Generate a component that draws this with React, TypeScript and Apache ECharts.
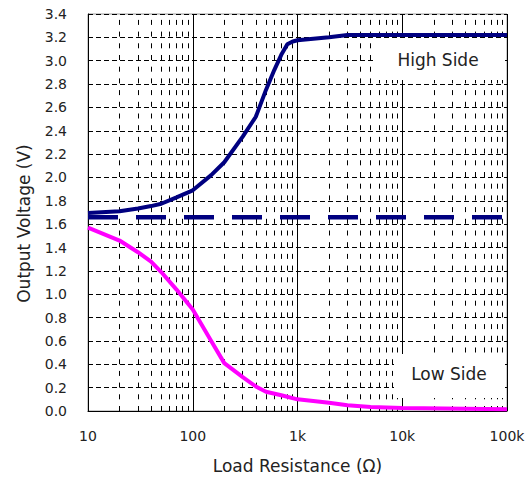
import React, { useEffect, useRef } from "react";
import * as echarts from "echarts";

const resistance = [10, 20, 30, 40, 50, 70, 100, 150, 200, 300, 400, 500, 600, 700, 800, 900, 1000, 2000, 3000, 5000, 10000, 100000];
const highSide = [1.695, 1.71, 1.735, 1.755, 1.775, 1.83, 1.89, 2.02, 2.13, 2.35, 2.52, 2.75, 2.92, 3.05, 3.14, 3.165, 3.175, 3.2, 3.22, 3.22, 3.22, 3.22];
const lowResistance = [10, 20, 30, 40, 50, 70, 100, 150, 200, 300, 400, 500, 700, 1000, 2000, 3000, 5000, 10000, 100000];
const lowSide = [1.57, 1.46, 1.36, 1.28, 1.19, 1.04, 0.87, 0.6, 0.41, 0.29, 0.21, 0.165, 0.135, 0.1, 0.07, 0.05, 0.035, 0.025, 0.015];
const refRange = [10, 100000];
const refLevel = [1.66, 1.66];
const minorGrid = [
  20, 30, 40, 50, 60, 70, 80, 90,
  200, 300, 400, 500, 600, 700, 800, 900,
  2000, 3000, 4000, 5000, 6000, 7000, 8000, 9000,
  20000, 30000, 40000, 50000, 60000, 70000, 80000, 90000,
];
const xTickLabels: Record<string, string> = { "10": "10", "100": "100", "1000": "1k", "10000": "10k", "100000": "100k" };

const FONT = "DejaVu Sans";

export default function App() {
  const ref = useRef<HTMLDivElement>(null);
  useEffect(() => {
    if (!ref.current) return;
    const chart = echarts.init(ref.current, undefined, { renderer: "svg" });
    chart.setOption({
      animation: false,
      backgroundColor: "#fff",
      grid: { left: 88, top: 14, right: 22, bottom: 68, show: true, borderColor: "#9a9a9a", borderWidth: 1, backgroundColor: "transparent" },
      xAxis: {
        type: "log",
        logBase: 10,
        min: 10,
        max: 100000,
        name: "Load Resistance (Ω)",
        nameLocation: "middle",
        nameGap: 46,
        nameTextStyle: { fontFamily: FONT, fontSize: 17, color: "#222" },
        axisLine: { show: true, lineStyle: { color: "#000", width: 1 } },
        axisTick: { show: false },
        axisLabel: {
          fontFamily: FONT, fontSize: 14, color: "#222", margin: 18,
          formatter: (v: number) => xTickLabels[String(Math.round(v))] ?? "",
        },
        splitLine: { show: true, lineStyle: { color: "#000", width: 1, type: "solid" } },
      },
      yAxis: {
        type: "value",
        min: 0,
        max: 3.4,
        interval: 0.2,
        name: "Output Voltage (V)",
        nameLocation: "middle",
        nameGap: 56,
        nameTextStyle: { fontFamily: FONT, fontSize: 17, color: "#222", padding: [0, 22, 0, 0] },
        axisLine: { show: true, lineStyle: { color: "#000", width: 1 } },
        axisTick: { show: false },
        axisLabel: { fontFamily: FONT, fontSize: 14, color: "#222", margin: 21, formatter: (v: number) => v.toFixed(1) },
        splitLine: { show: true, lineStyle: { color: "#000", width: 1, type: [5, 3] } },
      },
      series: [
        {
          type: "line",
          data: [],
          silent: true,
          z: 1,
          markLine: {
            silent: true,
            z: 1,
            symbol: ["none", "none"],
            label: { show: false },
            lineStyle: { color: "#000", width: 1, type: [5, 6.7] },
            data: minorGrid.map((v) => ({ xAxis: v })),
          },
        },
        {
          type: "line",
          data: refRange.map((x, i) => [x, refLevel[i]]),
          showSymbol: false,
          lineStyle: { color: "#000080", width: 4.5, type: [30, 18], cap: "butt" },
          z: 3,
        },
        {
          type: "line",
          data: resistance.map((x, i) => [x, highSide[i]]),
          showSymbol: false,
          lineStyle: { color: "#000080", width: 4 },
          z: 4,
        },
        {
          type: "line",
          data: lowResistance.map((x, i) => [x, lowSide[i]]),
          showSymbol: false,
          lineStyle: { color: "#ff00ff", width: 4 },
          z: 4,
        },
      ],
      graphic: [
        { type: "rect", z: 50, shape: { x: 373, y: 38, width: 132, height: 42 }, style: { fill: "#fff" } },
        {
          type: "text", z: 51, x: 438, y: 60,
          style: { text: "High Side", font: `17px "${FONT}"`, fill: "#222", align: "center", verticalAlign: "middle", textAlign: "center", textVerticalAlign: "middle" },
        },
        { type: "rect", z: 50, shape: { x: 394, y: 354, width: 111, height: 44 }, style: { fill: "#fff" } },
        {
          type: "text", z: 51, x: 449, y: 374,
          style: { text: "Low Side", font: `17px "${FONT}"`, fill: "#222", align: "center", verticalAlign: "middle", textAlign: "center", textVerticalAlign: "middle" },
        },
      ],
    });
    return () => chart.dispose();
  }, []);
  return <div ref={ref} style={{ position: "fixed", left: 0, top: 0, width: 529, height: 479 }} />;
}
